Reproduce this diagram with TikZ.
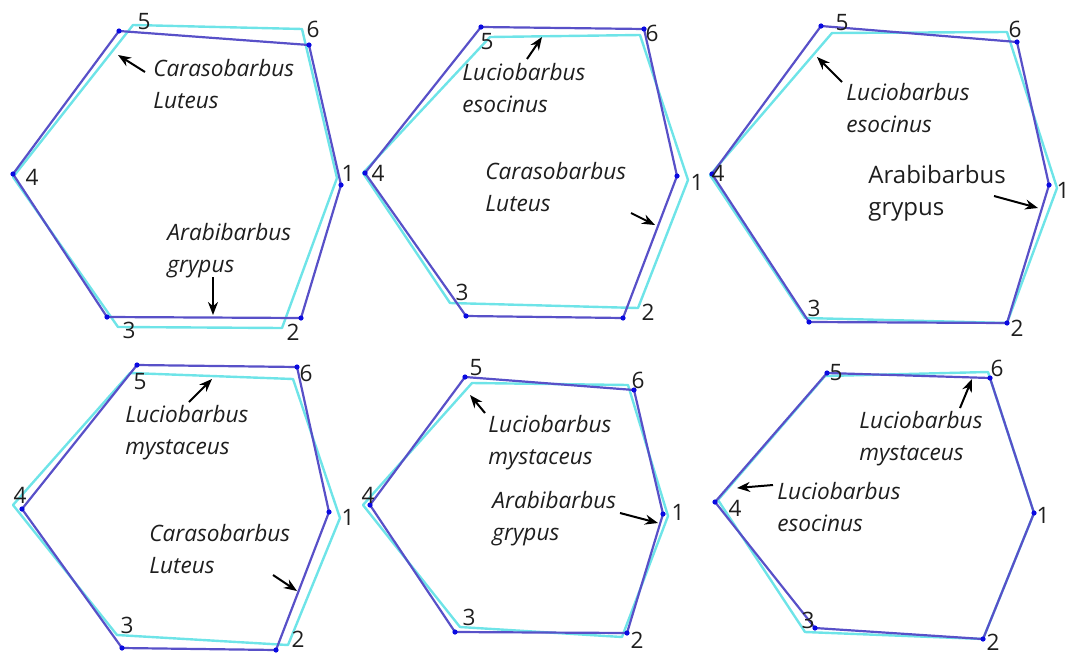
\documentclass[tikz,border=0pt]{standalone}
\usepackage{fontspec}
\setmainfont{Open Sans}
\usetikzlibrary{arrows.meta}
\definecolor{hexblue}{RGB}{88, 80, 200}
\definecolor{hexcyan}{RGB}{110, 228, 232}
\definecolor{dotblue}{RGB}{10, 10, 225}
\definecolor{labelgray}{RGB}{30, 30, 30}

\tikzset{
  bluehex/.style={hexblue, line width=1.1pt, line join=round},
  cyanhex/.style={hexcyan, line width=1.2pt, line join=round},
  vnum/.style={labelgray, font=\fontsize{11.3}{13}\selectfont, inner sep=0pt},
  species/.style={labelgray, font=\fontsize{11.3}{16}\selectfont\itshape, align=left, anchor=west, inner sep=0pt},
  pointer/.style={-{Stealth[length=6.5pt, width=5pt]}, line width=1pt, black},
}

\begin{document}
\begin{tikzpicture}[x=0.5pt, y=-0.5pt]
  \useasboundingbox (0,0) rectangle (1069,653);

  % panel 1 (oben links)
  \draw[cyanhex] (337,178) -- (282,328) -- (118,327) -- (13,177) -- (133,25) -- (302,29) -- cycle;
  \draw[bluehex] (341,185) -- (301,318) -- (107,317) -- (13,174) -- (119,31) -- (309,45) -- cycle;
  \foreach \p in {(341,185), (301,318), (107,317), (13,174), (119,31), (309,45)}
    \fill[dotblue] \p circle (2.6);
  \node[vnum] (a1) at (348,173) {1};
  \node[vnum] (a2) at (293,332) {2};
  \node[vnum] (a3) at (129,330) {3};
  \node[vnum] (a4) at (32,177) {4};
  \node[vnum] (a5) at (144,22) {5};
  \node[vnum] (a6) at (313,29) {6};
  \node[species] (aCar) at (153,84) {Carasobarbus\\Luteus};
  \node[species] (aAra) at (167,251) {Arabibarbus\\grypus};
  \coordinate (aCarS) at (145,72);  \coordinate (aCarE) at (118,55);
  \coordinate (aAraS) at (213,277); \coordinate (aAraE) at (213,315);
  \draw[pointer] (aCarS) -- (aCarE);
  \draw[pointer] (aAraS) -- (aAraE);

  % panel 2 (oben mitte)
  \draw[cyanhex] (688,180) -- (638,308) -- (450,303) -- (363,173) -- (490,37) -- (640,35) -- cycle;
  \draw[bluehex] (677,176) -- (623,318) -- (466,316) -- (365,173) -- (481,27) -- (644,29) -- cycle;
  \foreach \p in {(677,176), (623,318), (466,316), (365,173), (481,27), (644,29)}
    \fill[dotblue] \p circle (2.6);
  \node[vnum] (b1) at (697,182) {1};
  \node[vnum] (b2) at (648,312) {2};
  \node[vnum] (b3) at (462,292) {3};
  \node[vnum] (b4) at (378,173) {4};
  \node[vnum] (b5) at (487,42) {5};
  \node[vnum] (b6) at (652,33) {6};
  \node[species] (bEso) at (462,88) {Luciobarbus\\esocinus};
  \node[species] (bCar) at (485,187) {Carasobarbus\\Luteus};
  \coordinate (bEsoS) at (527,59);  \coordinate (bEsoE) at (542,37);
  \coordinate (bCarS) at (631,213); \coordinate (bCarE) at (655,225);
  \draw[pointer] (bEsoS) -- (bEsoE);
  \draw[pointer] (bCarS) -- (bCarE);

  % panel 3 (oben rechts)
  \draw[cyanhex] (1057,188) -- (1007,323) -- (805,318) -- (710,175) -- (832,33) -- (1007,32) -- cycle;
  \draw[bluehex] (1049,185) -- (1007,323) -- (809,322) -- (712,174) -- (821,26) -- (1017,42) -- cycle;
  \foreach \p in {(1049,185), (1007,323), (809,322), (712,174), (821,26), (1017,42)}
    \fill[dotblue] \p circle (2.6);
  \node[vnum] (c1) at (1063,190) {1};
  \node[vnum] (c2) at (1017,328) {2};
  \node[vnum] (c3) at (814,308) {3};
  \node[vnum] (c4) at (718,173) {4};
  \node[vnum] (c5) at (842,23) {5};
  \node[vnum] (c6) at (1015,29) {6};
  \node[species] (cEso) at (846,108) {Luciobarbus\\esocinus};
  \node[species, font=\fontsize{12}{16}\selectfont] (cAra) at (868,193) {Arabibarbus\\grypus};
  \coordinate (cEsoS) at (842,82);  \coordinate (cEsoE) at (817,57);
  \coordinate (cAraS) at (994,196); \coordinate (cAraE) at (1038,208);
  \draw[pointer] (cEsoS) -- (cEsoE);
  \draw[pointer] (cAraS) -- (cAraE);

  % panel 4 (unten links)
  \draw[cyanhex] (340,518) -- (288,645) -- (117,635) -- (13,505) -- (130,373) -- (293,379) -- cycle;
  \draw[bluehex] (329,512) -- (276,650) -- (122,648) -- (22,509) -- (137,365) -- (297,367) -- cycle;
  \foreach \p in {(329,512), (276,650), (122,648), (22,509), (137,365), (297,367)}
    \fill[dotblue] \p circle (2.6);
  \node[vnum] (d1) at (348,517) {1};
  \node[vnum] (d2) at (298,639) {2};
  \node[vnum] (d3) at (127,625) {3};
  \node[vnum] (d4) at (20,495) {4};
  \node[vnum] (d5) at (140,382) {5};
  \node[vnum] (d6) at (306,373) {6};
  \node[species] (dMys) at (125,433) {Luciobarbus\\mystaceus};
  \node[species] (dCar) at (149,549) {Carasobarbus\\Luteus};
  \coordinate (dMysS) at (189,402); \coordinate (dMysE) at (212,379);
  \coordinate (dCarS) at (273,575); \coordinate (dCarE) at (297,591);
  \draw[pointer] (dMysS) -- (dMysE);
  \draw[pointer] (dCarS) -- (dCarE);

  % panel 5 (unten mitte)
  \draw[cyanhex] (668,516) -- (622,637) -- (460,627) -- (363,505) -- (472,383) -- (628,385) -- cycle;
  \draw[bluehex] (663,514) -- (627,633) -- (455,632) -- (370,505) -- (465,377) -- (634,390) -- cycle;
  \foreach \p in {(663,514), (627,633), (455,632), (370,505), (465,377), (634,390)}
    \fill[dotblue] \p circle (2.6);
  \node[vnum] (e1) at (678,512) {1};
  \node[vnum] (e2) at (637,640) {2};
  \node[vnum] (e3) at (469,617) {3};
  \node[vnum] (e4) at (368,495) {4};
  \node[vnum] (e5) at (476,368) {5};
  \node[vnum] (e6) at (638,380) {6};
  \node[species] (eMys) at (488,443) {Luciobarbus\\mystaceus};
  \node[species] (eAra) at (492,519) {Arabibarbus\\grypus};
  \coordinate (eMysS) at (485,413); \coordinate (eMysE) at (470,395);
  \coordinate (eAraS) at (620,513); \coordinate (eAraE) at (658,523);
  \draw[pointer] (eMysS) -- (eMysE);
  \draw[pointer] (eAraS) -- (eAraE);

  % panel 6 (unten rechts)
  \draw[cyanhex] (1034,513) -- (983,639) -- (805,632) -- (718,500) -- (825,376) -- (988,372) -- cycle;
  \draw[bluehex] (1034,513) -- (983,639) -- (815,628) -- (715,502) -- (827,373) -- (990,378) -- cycle;
  \foreach \p in {(1034,513), (983,639), (815,628), (715,502), (827,373), (990,378)}
    \fill[dotblue] \p circle (2.6);
  \node[vnum] (f1) at (1043,515) {1};
  \node[vnum] (f2) at (993,642) {2};
  \node[vnum] (f3) at (808,620) {3};
  \node[vnum] (f4) at (735,508) {4};
  \node[vnum] (f5) at (836,373) {5};
  \node[vnum] (f6) at (997,368) {6};
  \node[species] (fMys) at (859,439) {Luciobarbus\\mystaceus};
  \node[species] (fEso) at (777,507) {Luciobarbus\\esocinus};
  \coordinate (fMysS) at (960,408); \coordinate (fMysE) at (972,379);
  \coordinate (fEsoS) at (773,485); \coordinate (fEsoE) at (737,488);
  \draw[pointer] (fMysS) -- (fMysE);
  \draw[pointer] (fEsoS) -- (fEsoE);
\end{tikzpicture}
\end{document}
